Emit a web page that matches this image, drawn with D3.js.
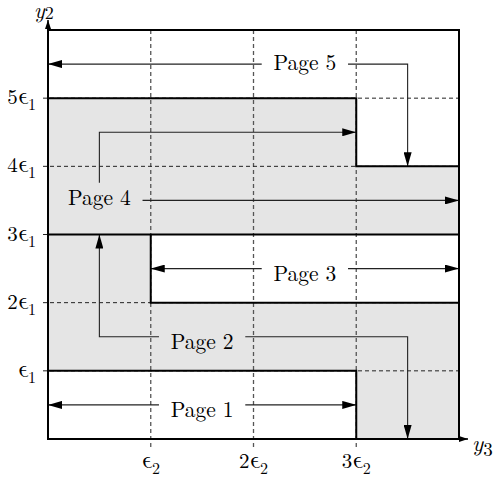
<!DOCTYPE html>
<html>
<head>
<meta charset="utf-8">
<script src="https://cdn.jsdelivr.net/npm/d3@7"></script>
<style>
  html, body { margin: 0; padding: 0; background: #fff; }
  svg { display: block; }
</style>
</head>
<body>
<svg id="chart" width="497" height="479"></svg>
<script>
// ---- data (in units of epsilon2 horizontally, epsilon1 vertically) ----
const xDomain = [0, 4];
const yDomain = [0, 6];
const xTicks = [1, 2, 3];
const xTickCoef = ["", "2", "3"];
const yTicks = [1, 2, 3, 4, 5];
const yTickCoef = ["", "2", "3", "4", "5"];

// shaded page regions (pages 2 and 4)
const shadedPage2 = [[0,1],[3,1],[3,0],[4,0],[4,2],[1,2],[1,3],[0,3]];
const shadedPage4 = [[0,3],[4,3],[4,4],[3,4],[3,5],[0,5]];

// page boundaries (bold)
const boundary1 = [[0,1],[3,1],[3,0]];
const boundary3 = [[1,3],[1,2],[4,2]];
const boundary35 = [[0,3],[4,3]];
const boundary5 = [[0,5],[3,5],[3,4],[4,4]];

// page labels: [text, x, baseline y]
const pageLabels = [
  ["Page 1", 1.5, 0.32],
  ["Page 2", 1.5, 1.32],
  ["Page 3", 2.5, 2.32],
  ["Page 4", 0.5, 3.43],
  ["Page 5", 2.5, 5.42]
];

// arrows (polylines ending in arrowhead)
const arrows = [
  [[1.08,0.5],[0,0.5]],
  [[1.92,0.5],[3,0.5]],
  [[1.08,1.5],[0.5,1.5],[0.5,3]],
  [[1.92,1.5],[3.5,1.5],[3.5,0]],
  [[2.08,2.5],[1,2.5]],
  [[2.92,2.5],[4,2.5]],
  [[0.5,3.76],[0.5,4.5],[3,4.5]],
  [[0.92,3.5],[4,3.5]],
  [[2.08,5.5],[0,5.5]],
  [[2.92,5.5],[3.5,5.5],[3.5,4]]
];

// ---- drawing ----
const FONT = "'Latin Modern Roman', 'Liberation Serif', serif";
const EPSFONT = "'Latin Modern Math', 'Liberation Serif', serif";
const svg = d3.select("#chart");
const x = d3.scaleLinear().domain(xDomain).range([48, 459]);
const y = d3.scaleLinear().domain(yDomain).range([439, 30]);
const line = d3.line().x(d => x(d[0])).y(d => y(d[1]));

const defs = svg.append("defs");
defs.append("marker").attr("id", "head")
  .attr("markerUnits", "userSpaceOnUse")
  .attr("viewBox", "0 -4 14 8")
  .attr("refX", 14).attr("refY", 0)
  .attr("markerWidth", 14).attr("markerHeight", 8)
  .attr("orient", "auto")
  .append("path").attr("d", "M0,-4L14,0L0,4Z").attr("fill", "#000");
defs.append("marker").attr("id", "axhead")
  .attr("markerUnits", "userSpaceOnUse")
  .attr("viewBox", "0 -3 9 6")
  .attr("refX", 9).attr("refY", 0)
  .attr("markerWidth", 9).attr("markerHeight", 6)
  .attr("orient", "auto")
  .append("path").attr("d", "M0,-3L9,0L0,3Z").attr("fill", "#000");

// shaded regions
[shadedPage2, shadedPage4].forEach(p => {
  svg.append("path").attr("d", line(p) + "Z").attr("fill", "#e5e5e5").attr("stroke", "none");
});

// gridlines
svg.append("g").selectAll("line").data(xTicks).join("line")
  .attr("x1", d => x(d)).attr("x2", d => x(d))
  .attr("y1", y(yDomain[1])).attr("y2", y(0) + 8)
  .attr("stroke", "#555").attr("stroke-width", 1.3).attr("stroke-dasharray", "4,3");
svg.append("g").selectAll("line").data(yTicks).join("line")
  .attr("x1", x(0) - 5).attr("x2", x(xDomain[1]))
  .attr("y1", d => y(d)).attr("y2", d => y(d))
  .attr("stroke", "#222").attr("stroke-width", 1).attr("stroke-dasharray", "4,3");

// arrows
svg.append("g").selectAll("path").data(arrows).join("path")
  .attr("d", d => line(d))
  .attr("fill", "none").attr("stroke", "#222").attr("stroke-width", 1.1)
  .attr("marker-end", "url(#head)");

// bold boundaries
[boundary1, boundary3, boundary35, boundary5].forEach(p => {
  svg.append("path").attr("d", line(p)).attr("fill", "none")
    .attr("stroke", "#000").attr("stroke-width", 2);
});
// outer box
svg.append("rect")
  .attr("x", x(0)).attr("y", y(yDomain[1]))
  .attr("width", x(xDomain[1]) - x(0)).attr("height", y(0) - y(yDomain[1]))
  .attr("fill", "none").attr("stroke", "#000").attr("stroke-width", 2);

// axes arrows
svg.append("line").attr("x1", x(0)).attr("y1", y(0)).attr("x2", x(0)).attr("y2", 20)
  .attr("stroke", "#000").attr("stroke-width", 1.5).attr("marker-end", "url(#axhead)");
svg.append("line").attr("x1", x(0)).attr("y1", y(0)).attr("x2", 468).attr("y2", y(0))
  .attr("stroke", "#000").attr("stroke-width", 1.5).attr("marker-end", "url(#axhead)");

// page labels
svg.append("g").selectAll("text").data(pageLabels).join("text")
  .attr("x", d => x(d[1])).attr("y", d => y(d[2]))
  .attr("text-anchor", "middle")
  .style("font-family", FONT).style("font-size", "21.5px")
  .text(d => d[0]);

// y tick labels
const yl = svg.append("g").selectAll("text").data(yTicks).join("text")
  .attr("x", 36).attr("y", d => y(d) + 6)
  .attr("text-anchor", "end")
  .style("font-family", FONT).style("font-size", "21px");
yl.append("tspan").text((d, i) => yTickCoef[i]);
yl.append("tspan").style("font-family", EPSFONT).style("font-size", "25px").text("\u03F5");
yl.append("tspan").attr("dy", 6).style("font-size", "16px").text("1");

// x tick labels
const xl = svg.append("g").selectAll("text").data(xTicks).join("text")
  .attr("x", d => x(d)).attr("y", 468)
  .attr("text-anchor", "middle")
  .style("font-family", FONT).style("font-size", "21px");
xl.append("tspan").text((d, i) => xTickCoef[i]);
xl.append("tspan").style("font-family", EPSFONT).style("font-size", "25px").text("\u03F5");
xl.append("tspan").attr("dy", 6).style("font-size", "16px").text("2");

// axis titles
const t2 = svg.append("text").attr("x", 34).attr("y", 18)
  .style("font-family", FONT).style("font-size", "22px");
t2.append("tspan").style("font-style", "italic").text("y");
t2.append("tspan").attr("dy", 1).style("font-size", "18px").text("2");
const t3 = svg.append("text").attr("x", 472).attr("y", 451)
  .style("font-family", FONT).style("font-size", "23px");
t3.append("tspan").style("font-style", "italic").text("y");
t3.append("tspan").attr("dy", 5).style("font-size", "19px").text("3");
</script>
</body>
</html>
